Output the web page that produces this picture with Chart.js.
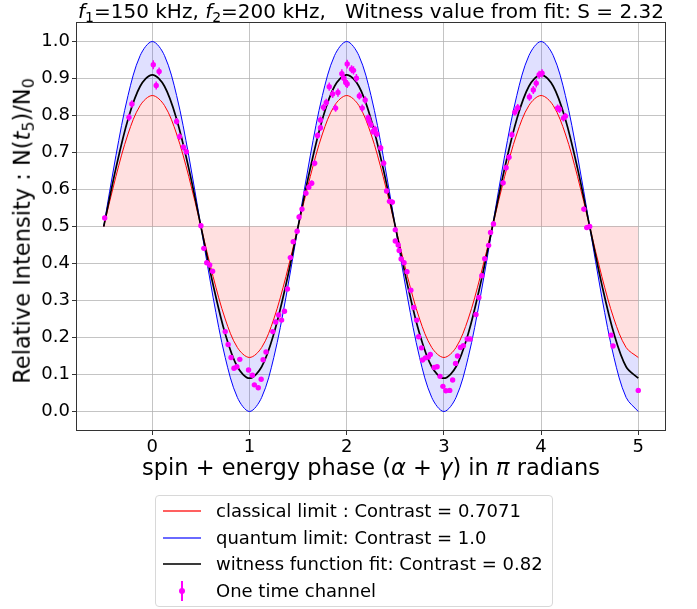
<!DOCTYPE html>
<html>
<head>
<meta charset="utf-8">
<script src="https://cdn.jsdelivr.net/npm/chart.js@4/dist/chart.umd.min.js"></script>
<style>
  html, body { margin: 0; padding: 0; background: #fff; }
  #wrap { position: relative; width: 697px; height: 609px; font-family: "DejaVu Sans", sans-serif; color: #000; }
  #c { position: absolute; left: 0; top: 0; }
  .lbl { position: absolute; white-space: pre; line-height: 1; }
  sub { font-size: 70%; vertical-align: -0.28em; line-height: 0; }
  #title { left: 77px; width: 588px; top: 1px; text-align: center; font-size: 20px; }
  #xlabel { left: 77px; width: 588px; top: 456px; text-align: center; font-size: 22.5px; }
  #ylabel { left: 22px; top: 231px; font-size: 22.5px; transform: translate(-50%, -50%) rotate(-90deg); }
  #legend { position: absolute; left: 155px; top: 495px; width: 398px; height: 112px; border: 1px solid #d8d8d8; border-radius: 4px; box-sizing: border-box; }
  .row { position: absolute; left: 0; height: 26px; width: 100%; }
  .row .txt { position: absolute; left: 60px; top: 50%; transform: translateY(-50%); font-size: 18px; white-space: pre; line-height: 1; }
  .row .ln { position: absolute; left: 7px; width: 38px; top: 12px; height: 2px; }
</style>
</head>
<body>
<div id="wrap">
  <canvas id="c" width="697" height="609"></canvas>
  <div id="title" class="lbl"><i>f</i><sub>1</sub>=150 kHz, <i>f</i><sub>2</sub>=200 kHz,   Witness value from fit: S = 2.32</div>
  <div id="xlabel" class="lbl">spin + energy phase (<i>α</i> + <i>γ</i>) in <i>π</i> radians</div>
  <div id="ylabel" class="lbl">Relative Intensity : N(<i>t</i><sub>5</sub>)/N<sub>0</sub></div>
  <div id="legend"></div>
</div>
<script>
// ---- data ----
const curveX = [-0.5,-0.375,-0.25,-0.125,0,0.125,0.25,0.375,0.5,0.625,0.75,0.875,1,1.125,1.25,1.375,1.5,1.625,1.75,1.875,2,2.125,2.25,2.375,2.5,2.625,2.75,2.875,3,3.125,3.25,3.375,3.5,3.625,3.75,3.875,4,4.125,4.25,4.375,4.5,4.625,4.75,4.875,5];
const classicalY = [0.500,0.635,0.750,0.827,0.854,0.827,0.750,0.635,0.500,0.365,0.250,0.173,0.146,0.173,0.250,0.365,0.500,0.635,0.750,0.827,0.854,0.827,0.750,0.635,0.500,0.365,0.250,0.173,0.146,0.173,0.250,0.365,0.500,0.635,0.750,0.827,0.854,0.827,0.750,0.635,0.500,0.365,0.250,0.173,0.146];
const quantumY = [0.500,0.691,0.854,0.962,1.000,0.962,0.854,0.691,0.500,0.309,0.146,0.038,0.000,0.038,0.146,0.309,0.500,0.691,0.854,0.962,1.000,0.962,0.854,0.691,0.500,0.309,0.146,0.038,0.000,0.038,0.146,0.309,0.500,0.691,0.854,0.962,1.000,0.962,0.854,0.691,0.500,0.309,0.146,0.038,0.000];
const witnessY = [0.500,0.657,0.790,0.879,0.910,0.879,0.790,0.657,0.500,0.343,0.210,0.121,0.090,0.121,0.210,0.343,0.500,0.657,0.790,0.879,0.910,0.879,0.790,0.657,0.500,0.343,0.210,0.121,0.090,0.121,0.210,0.343,0.500,0.657,0.790,0.879,0.910,0.879,0.790,0.657,0.500,0.343,0.210,0.121,0.090];

const pointX = [-0.49,-0.24,-0.21,0.01,0.04,0.07,0.25,0.28,0.32,0.35,0.50,0.53,0.56,0.59,0.62,0.75,0.78,0.81,0.84,0.87,0.90,0.99,1.03,1.05,1.09,1.12,1.14,1.17,1.24,1.27,1.30,1.33,1.36,1.39,1.42,1.45,1.49,1.51,1.54,1.58,1.61,1.64,1.67,1.70,1.73,1.73,1.76,1.79,1.82,1.855,1.886,1.91,1.95,1.97,1.99,2.005,2.005,2.05,2.07,2.10,2.13,2.16,2.19,2.22,2.23,2.25,2.27,2.29,2.31,2.35,2.38,2.41,2.44,2.47,2.50,2.50,2.53,2.54,2.56,2.59,2.62,2.66,2.69,2.72,2.74,2.77,2.78,2.81,2.84,2.86,2.90,2.93,2.96,2.99,3.02,3.06,3.09,3.12,3.14,3.17,3.20,3.24,3.27,3.33,3.36,3.39,3.42,3.46,3.48,3.51,3.61,3.64,3.67,3.70,3.73,3.76,3.88,3.92,3.95,3.98,4.01,4.17,4.19,4.23,4.25,4.44,4.47,4.50,4.72,4.74,5.00];
const pointY = [0.523,0.795,0.831,0.937,0.881,0.919,0.784,0.743,0.714,0.702,0.502,0.441,0.402,0.396,0.379,0.216,0.181,0.146,0.117,0.121,0.141,0.112,0.098,0.072,0.064,0.087,0.140,0.161,0.216,0.242,0.261,0.247,0.271,0.331,0.416,0.459,0.487,0.526,0.547,0.590,0.606,0.617,0.671,0.746,0.767,0.788,0.822,0.835,0.878,0.858,0.820,0.862,0.913,0.901,0.889,0.885,0.939,0.925,0.922,0.901,0.853,0.820,0.842,0.794,0.785,0.775,0.757,0.763,0.750,0.712,0.671,0.596,0.568,0.566,0.491,0.461,0.450,0.435,0.412,0.402,0.378,0.328,0.281,0.247,0.202,0.172,0.139,0.145,0.147,0.154,0.119,0.121,0.095,0.068,0.056,0.057,0.085,0.130,0.150,0.173,0.178,0.196,0.196,0.262,0.308,0.367,0.413,0.449,0.484,0.507,0.618,0.659,0.687,0.748,0.809,0.821,0.850,0.869,0.887,0.910,0.914,0.820,0.817,0.793,0.798,0.547,0.497,0.500,0.206,0.177,0.057];
const pointErr = [0.007,0.010,0.010,0.012,0.011,0.011,0.009,0.009,0.008,0.008,0.007,0.006,0.006,0.006,0.006,0.004,0.004,0.004,0.004,0.004,0.004,0.004,0.004,0.003,0.003,0.004,0.004,0.004,0.004,0.005,0.005,0.005,0.005,0.005,0.006,0.006,0.006,0.007,0.007,0.007,0.007,0.007,0.008,0.009,0.009,0.009,0.010,0.010,0.011,0.011,0.010,0.011,0.012,0.011,0.011,0.011,0.012,0.011,0.011,0.011,0.010,0.010,0.010,0.009,0.009,0.009,0.009,0.009,0.009,0.008,0.008,0.007,0.007,0.007,0.006,0.006,0.006,0.006,0.006,0.006,0.006,0.005,0.005,0.005,0.004,0.004,0.004,0.004,0.004,0.004,0.004,0.004,0.004,0.003,0.003,0.003,0.004,0.004,0.004,0.004,0.004,0.004,0.004,0.005,0.005,0.006,0.006,0.006,0.006,0.007,0.007,0.008,0.008,0.009,0.010,0.010,0.010,0.011,0.011,0.011,0.011,0.010,0.010,0.009,0.009,0.007,0.006,0.006,0.004,0.004,0.003];

const xTicks = [0,1,2,3,4,5];
const yTicks = [0.0,0.1,0.2,0.3,0.4,0.5,0.6,0.7,0.8,0.9,1.0];
const seriesLabels = ["classical limit : Contrast = 0.7071","quantum limit: Contrast = 1.0","witness function fit: Contrast = 0.82","One time channel"];
const seriesColors = ["#ff0000","#0000ff","#000000","#ff00ff"];

// ---- chart ----
Chart.defaults.font.family = "DejaVu Sans";
const toXY = (xs, ys) => xs.map((x, i) => ({x: x, y: ys[i]}));

const errorBars = {
  id: 'errorBars',
  beforeDatasetDraw(chart, args) {
    if (args.index !== 0) return;
    const ctx = chart.ctx, xs = chart.scales.x, ys = chart.scales.y;
    ctx.save();
    ctx.strokeStyle = seriesColors[3];
    ctx.lineWidth = 1.5;
    ctx.beginPath();
    for (let i = 0; i < pointX.length; i++) {
      const px = xs.getPixelForValue(pointX[i]);
      ctx.moveTo(px, ys.getPixelForValue(pointY[i] - pointErr[i]));
      ctx.lineTo(px, ys.getPixelForValue(pointY[i] + pointErr[i]));
    }
    ctx.stroke();
    ctx.restore();
  }
};
const frame = {
  id: 'frame',
  afterDatasetsDraw(chart) {
    const a = chart.chartArea, ctx = chart.ctx;
    ctx.save();
    ctx.strokeStyle = '#333';
    ctx.lineWidth = 1;
    ctx.strokeRect(Math.round(a.left) - 0.5, Math.round(a.top) - 0.5, Math.round(a.right - a.left) + 1, Math.round(a.bottom - a.top) + 1);
    ctx.restore();
  }
};

new Chart(document.getElementById('c'), {
  type: 'scatter',
  data: {
    datasets: [
      { label: seriesLabels[3], data: toXY(pointX, pointY), showLine: false, pointRadius: 2.7, pointHoverRadius: 2.7,
        pointBackgroundColor: seriesColors[3], pointBorderWidth: 0, order: 0 },
      { label: seriesLabels[2], data: toXY(curveX, witnessY), showLine: true, pointRadius: 0, borderColor: seriesColors[2],
        borderWidth: 1.7, tension: 0.34, fill: false, order: 1 },
      { label: seriesLabels[0], data: toXY(curveX, classicalY), showLine: true, pointRadius: 0, borderColor: seriesColors[0],
        borderWidth: 1, tension: 0.34, fill: {value: 0.5}, backgroundColor: 'rgba(255,0,0,0.12)', order: 2 },
      { label: seriesLabels[1], data: toXY(curveX, quantumY), showLine: true, pointRadius: 0, borderColor: seriesColors[1],
        borderWidth: 1, tension: 0.34, fill: 2, backgroundColor: 'rgba(0,0,255,0.12)', order: 3 }
    ]
  },
  options: {
    responsive: false,
    animation: false,
    devicePixelRatio: 1,
    layout: { padding: { left: 0, top: 23, right: 32, bottom: 139 } },
    plugins: { legend: { display: false }, tooltip: { enabled: false }, title: { display: false } },
    scales: {
      x: {
        type: 'linear', min: -0.775, max: 5.275,
        afterBuildTicks: s => { s.ticks = xTicks.map(v => ({value: v})); },
        afterFit: s => { s.height = 40; },
        ticks: { font: { size: 18 }, color: '#000', padding: 2, maxRotation: 0, callback: v => String(v) },
        grid: { color: 'rgba(176,176,176,0.75)', lineWidth: 1, drawTicks: true, tickLength: 5, tickColor: '#333' },
        border: { display: false }
      },
      y: {
        type: 'linear', min: -0.05, max: 1.05,
        afterBuildTicks: s => { s.ticks = yTicks.map(v => ({value: v})); },
        afterFit: s => { s.width = 77; },
        ticks: { font: { size: 18 }, color: '#000', padding: 2, callback: v => Number(v).toFixed(1) },
        grid: { color: 'rgba(176,176,176,0.75)', lineWidth: 1, drawTicks: true, tickLength: 5, tickColor: '#333' },
        border: { display: false }
      }
    }
  },
  plugins: [errorBars, frame]
});

// ---- legend (HTML text) ----
const legend = document.getElementById('legend');
const legendOrder = [0, 1, 2, 3];
const legendColors = ['#ff6060', '#6a6aff', '#3a3a3a', seriesColors[3]];
legendOrder.forEach((k, r) => {
  const row = document.createElement('div');
  row.className = 'row';
  row.style.top = (2 + r * 26.6) + 'px';
  let mark;
  if (k < 3) {
    mark = '<div class="ln" style="background:' + legendColors[k] + '"></div>';
  } else {
    mark = '<div style="position:absolute;left:25px;top:3px;width:2px;height:20px;background:' + legendColors[k] + '"></div>' +
           '<div style="position:absolute;left:23px;top:10px;width:6px;height:6px;border-radius:50%;background:' + legendColors[k] + '"></div>';
  }
  row.innerHTML = mark + '<div class="txt">' + seriesLabels[k] + '</div>';
  legend.appendChild(row);
});
</script>
</body>
</html>
